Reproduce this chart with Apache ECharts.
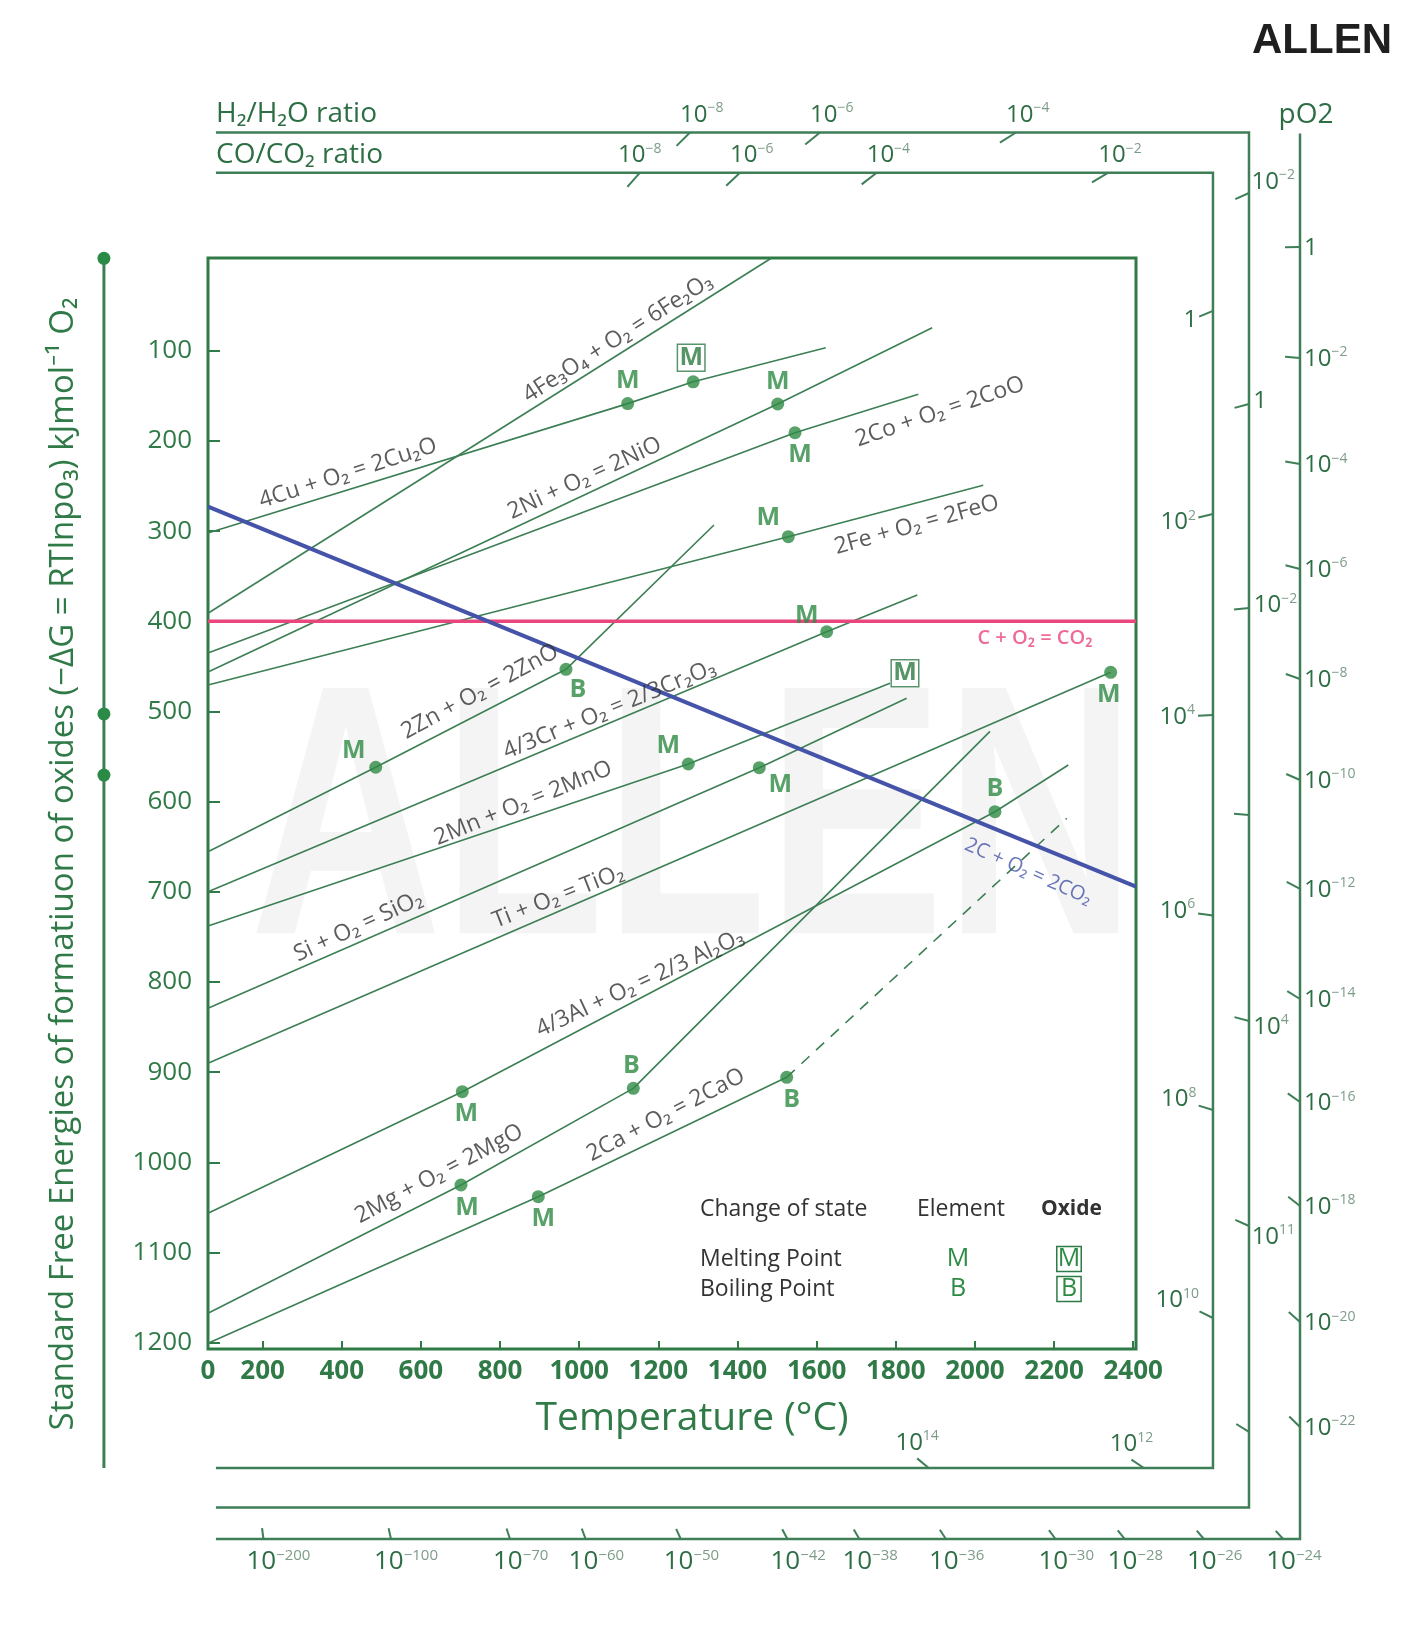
<!DOCTYPE html>
<html><head><meta charset="utf-8">
<script src="https://cdn.jsdelivr.net/npm/echarts@6/dist/echarts.min.js"></script>
<style>html,body{margin:0;padding:0;background:#fff}#c{width:1406px;height:1627px}</style>
</head><body><div id="c"></div>
<script>
// ================= DATA =================
const tempMin = 62, tempMax = 2407;          // °C at plot edges
const energyMin = -3, energyMax = 1207;       // -ΔG (kJ/mol O2) at plot edges
const tempTicks = [200,400,600,800,1000,1200,1400,1600,1800,2000,2200,2400];
const energyTicks = [100,200,300,400,500,600,700,800,900,1000,1100,1200];

// reaction lines [T °C, -ΔG]
const lineFe3O4 = [[62,391],[1486,-3]];
const lineCu    = [[62,302],[1122.5,158.5],[1288,134.3],[1623,96.5]];
const lineNi    = [[62,456.2],[1501.6,158.9],[1892,74.3]];
const lineCo    = [[62,435.1],[1545.3,190.8],[1857,148.2]];
const lineFeO   = [[62,470.6],[1528.4,306.1],[2021,249.1]];
const lineZn    = [[62,655.5],[485.8,561.8],[966.6,453.2],[1340.6,293.1]];
const lineCr    = [[62,699.8],[1625.4,411.5],[1854.3,370.8]];
const lineMn    = [[62,737.9],[1275.7,558.2],[1785.3,468.7]];
const lineSi    = [[62,829.1],[1455.1,562.3],[1827.5,485.3]];
const lineTi    = [[62,890.1],[2343,456.5]];
const lineAl    = [[62,1056.5],[704.6,921.6],[2050.7,611.1],[2235.9,559.3]];
const lineMg    = [[62,1167.4],[701.3,1025.1],[1136.7,917.9],[2038,522]];
const lineCa    = [[62,1200.7],[896.6,1038.1],[1524.3,905.7]];
const lineCaVapour = [[1524.3,905.7],[2232,618.4]];
const lineCtoCO2 = [[62,400],[2407,400]];
const line2CtoCO = [[62,272.8],[2407,694.3]];

// change-of-state points
const elementMelting = [[1122.5,158.5],[1501.6,158.9],[1545.3,190.8],[1528.4,306.1],[1625.4,411.5],[485.8,561.8],[1275.7,558.2],[1455.1,562.3],[2343,456.5],[704.6,921.6],[701.3,1025.1],[896.6,1038.1]];
const elementMeltingNames = ['Cu','Ni','Co','Fe','Cr','Zn','Mn','Si','Ti','Al','Mg','Ca'];
const elementBoiling = [[966.6,453.2],[2050.7,611.1],[1136.7,917.9],[1524.3,905.7]];
const elementBoilingNames = ['Zn','Al','Mg','Ca'];
const oxideMelting = [[1288,134.3],[1785.3,468.7]];
const oxideMeltingNames = ['Cu₂O','MnO'];

// reaction label texts and anchor values
const reactionTexts = ['4Fe₃O₄ + O₂ = 6Fe₂O₃','4Cu + O₂ = 2Cu₂O','2Ni + O₂ = 2NiO','2Co + O₂ = 2CoO','2Fe + O₂ = 2FeO','2Zn + O₂ = 2ZnO','4/3Cr + O₂ = 2/3Cr₂O₃','2Mn + O₂ = 2MnO','Si + O₂ = SiO₂','Ti + O₂ = TiO₂','4/3Al + O₂ = 2/3 Al₂O₃','2Mg + O₂ = 2MgO','2Ca + O₂ = 2CaO'];
const reactionTextAt = [[1097.3,86.1],[415.8,235.8],[1013.6,241.3],[1911.7,167.5],[1852.8,293.1],[749.3,478],[1076.5,498],[858.7,601.8],[441.8,738.6],[947.2,705.4],[1153.6,801.4],[645.7,1012.9],[1218.8,947.5]];
const carbonTexts = ['C + O₂ = CO₂','2C + O₂ = 2CO₂'];
const carbonTextAt = [[2151.8,418.4],[2134.8,677.6]];

// nomogram scales (values in the same T / -ΔG units)
const nomoOriginT = -201;
const nomoOrigins = {O:-2.6, H:502.6, C:570.5};
const scaleStartT = 82;
const h2TopV = -142.2, coTopV = -97.6, coBottomV = 1339, h2BottomV = 1382.8, pO2BottomV = 1417.7;
const coRightT = 2601.5, h2RightT = 2692.5, pO2RightT = 2821.4, pO2TopV = -141;
const h2TopTicks = [1280,1608.5,2103.7];             const h2TopExp = ['-8','-6','-4'];
const coTopTicks = [1153.6,1406.3,1751.7,2337];      const coTopExp = ['-8','-6','-4','-2'];
const coRightTicks = [55.6,280.9,503.8,726.1,941.9,1172.6]; const coRightExp = ['0','2','4','6','8','10'];
const coBottomTicks = [1883,2427];                   const coBottomExp = ['14','12'];
const h2RightTicks = [-75.1,158.9,385.2,614.8,843.2,1070.6,1299]; const h2RightExp = ['-2','0','-2','','4','11',''];
const pO2RightTicks = [-15.2,107.9,225.5,341.9,463.9,575.9,696.8,818.8,933.1,1048.4,1177.1,1293.5];
const pO2RightExp = ['0','-2','-4','-6','-8','-10','-12','-14','-16','-18','-20','-22'];
const pO2BottomTicks = [202,524.4,824.9,1016.2,1256.5,1526.1,1708,1926.6,2203.6,2378.2,2578.6,2778.9];
const pO2BottomExp = ['-200','-100','-70','-60','-50','-42','-38','-36','-30','-28','-26','-24'];

// ================= STYLE =================
const FONT = "'Open Sans','Noto Sans','DejaVu Sans',sans-serif";
const GREEN = '#2f7a47', LINE = '#3d7f55', DOT = '#2e8b45', TXT = '#333333', SCALE = '#3f7f58';
const SCALE_TXT = '#2e6e45', SUP_TXT = '#7d9c88';
const BLUE = '#4553a8', PINK = '#e8467c';

const meltPlace = [['top',0,0],['top',0,0],['bottom',5,0],['top',-20,4],['top',-20,7],['top',-22,6],['top',-20,4],['bottom',21,-5],['bottom',-2,0],['bottom',4,0],['bottom',6,0],['bottom',5,0]];
const boilPlace = [['bottom',12,-2],['top',0,0],['top',-2,0],['bottom',5,0]];
const reactionAngles = [32.6,17.9,24.8,18.8,15.6,28.5,22.3,22.2,24.8,21.3,25,28,27.7];
// per-tick label nudges for the CO/CO2 top scale
const coTopLabelNudge = [-12,0,0,0];

function lineSeries(data, color, width, type){
  return {type:'line', data:data, symbol:'none', silent:true, animation:false, z:3,
    lineStyle:{color:color, width:width, type:type||'solid'}};
}
const markLabel = (txt, place, boxed) => {
  const l = {show:true, formatter:txt, position:place[0], offset:[place[1],place[2]], distance:3,
    color:DOT, fontSize:25, fontWeight:'bold', fontFamily:FONT, lineHeight:26};
  if (boxed){ l.borderColor = GREEN; l.borderWidth = 1.5; l.padding = [1,2,0,2]; l.color = '#2a7a40'; }
  return l;
};
const pointData = [];
elementMelting.forEach((p,i)=>pointData.push({name:elementMeltingNames[i]+' M', value:p, label:markLabel('M', meltPlace[i])}));
elementBoiling.forEach((p,i)=>pointData.push({name:elementBoilingNames[i]+' B', value:p, label:markLabel('B', boilPlace[i])}));
pointData.push({name:oxideMeltingNames[0], value:oxideMelting[0], label:markLabel('M',['top',-2,-1],true)});
pointData.push({name:oxideMeltingNames[1], value:oxideMelting[1], symbolSize:0, label:markLabel('M',['inside',15,-10],true)});

const textData = reactionTexts.map((t,i)=>({name:t, value:reactionTextAt[i],
  label:{show:true, formatter:t, position:'inside', rotate:reactionAngles[i], color:TXT, fontSize:23, fontFamily:FONT}}));
textData.push({name:carbonTexts[0], value:carbonTextAt[0], label:{show:true, formatter:carbonTexts[0], position:'inside', rotate:0, color:PINK, fontSize:20, fontWeight:600, fontFamily:FONT}});
textData.push({name:carbonTexts[1], value:carbonTextAt[1], label:{show:true, formatter:carbonTexts[1], position:'inside', rotate:-24, color:BLUE, fontSize:20, fontFamily:FONT}});

// nomogram scale definitions
const scaleDefs = [
  {axis:'h', at:h2TopV, values:h2TopTicks, exps:h2TopExp, origin:'H', len:19, mode:'above'},
  {axis:'h', at:coTopV, values:coTopTicks, exps:coTopExp, origin:'C', len:19, mode:'above', nudge:coTopLabelNudge},
  {axis:'v', at:coRightT, values:coRightTicks, exps:coRightExp, origin:'C', len:15, mode:'endOut'},
  {axis:'h', at:coBottomV, values:coBottomTicks, exps:coBottomExp, origin:'C', len:15, mode:'endAbove'},
  {axis:'v', at:h2RightT, values:h2RightTicks, exps:h2RightExp, origin:'H', len:15, mode:'oppOut'},
  {axis:'v', at:pO2RightT, values:pO2RightTicks, exps:pO2RightExp, origin:'O', len:15, mode:'right'},
  {axis:'h', at:pO2BottomV, values:pO2BottomTicks, exps:pO2BottomExp, origin:'O', len:11, mode:'below', big:true}
];
function tickText(e){ return e === '0' ? '1' : '{b|10}{s|' + e.replace('-', '−') + '}'; }
function tickWidth(e, fs){ return e === '0' ? fs*0.55 : fs*1.15 + e.length*fs*0.33; }

function renderNomogram(params, api){
  const ch = [];
  const P = (t,v) => api.coord([t,v]);
  const poly = pts => ch.push({type:'polyline', shape:{points:pts.map(p=>P(p[0],p[1]))},
    style:{stroke:SCALE, lineWidth:2.5, fill:null}});
  poly([[scaleStartT,h2TopV],[h2RightT,h2TopV],[h2RightT,h2BottomV],[scaleStartT,h2BottomV]]);
  poly([[scaleStartT,coTopV],[coRightT,coTopV],[coRightT,coBottomV],[scaleStartT,coBottomV]]);
  poly([[pO2RightT,pO2TopV],[pO2RightT,pO2BottomV],[scaleStartT,pO2BottomV]]);
  // left energy scale with origin points
  ch.push({type:'line', shape:(function(){const a=P(nomoOriginT,nomoOrigins.O), b=P(nomoOriginT,coBottomV); return {x1:a[0],y1:a[1],x2:b[0],y2:b[1]};})(),
    style:{stroke:SCALE, lineWidth:3}});
  ['O','H','C'].forEach(k=>{const c=P(nomoOriginT,nomoOrigins[k]); ch.push({type:'circle', shape:{cx:c[0],cy:c[1],r:6.5}, style:{fill:'#2b8a45'}});});

  scaleDefs.forEach(s=>{
    const og = P(nomoOriginT, nomoOrigins[s.origin]);
    const fs = s.big ? 26 : 24, ss = s.big ? 15 : 14;
    s.values.forEach((val,i)=>{
      const p = s.axis === 'h' ? P(val, s.at) : P(s.at, val);
      let dx = og[0]-p[0], dy = og[1]-p[1]; const L = Math.hypot(dx,dy); dx/=L; dy/=L;
      const e = [p[0]+dx*s.len, p[1]+dy*s.len];
      ch.push({type:'line', shape:{x1:p[0],y1:p[1],x2:e[0],y2:e[1]}, style:{stroke:SCALE, lineWidth:2}});
      const ex = s.exps[i];
      if (ex === '') return;
      const w = tickWidth(ex, fs);
      const nx = s.nudge ? s.nudge[i] : 0;
      let x, y, align = 'center', va = 'middle';
      if (s.mode === 'above'){ x = p[0]-10+nx; y = p[1]-4; align='left'; va='bottom'; }
      else if (s.mode === 'endOut'){ x = e[0]+dx*(3+w/2); y = e[1]+dy*(3+w/2); }
      else if (s.mode === 'oppOut'){ x = p[0]-dx*(5+w/2); y = p[1]-dy*(5+w/2); }
      else if (s.mode === 'right'){ x = p[0]+4; y = p[1]+1; align='left'; }
      else if (s.mode === 'endAbove'){ x = e[0]; y = e[1]-2; va='bottom'; }
      else { x = p[0]-17; y = p[1]+9; align='left'; va='top'; }
      ch.push({type:'text', style:{text:tickText(ex), x:x, y:y, align:align, verticalAlign:va,
        fill:SCALE_TXT, fontSize:fs, fontFamily:FONT, lineHeight:27,
        rich:{b:{fontSize:fs, fontFamily:FONT, fill:SCALE_TXT, lineHeight:27},
              s:{fontSize:ss, fontFamily:FONT, fill:SUP_TXT, verticalAlign:'top'}}}});
    });
  });
  return {type:'group', children:ch};
}

const chart = echarts.init(document.getElementById('c'));
chart.setOption({
  animation:false,
  backgroundColor:'#ffffff',
  grid:{left:208, top:258, width:928, height:1091, show:true, borderColor:GREEN, borderWidth:3, backgroundColor:'transparent'},
  xAxis:{type:'value', min:tempMin, max:tempMax, position:'bottom',
    axisLine:{show:false, onZero:false}, splitLine:{show:false},
    axisTick:{show:true, inside:true, length:8, lineStyle:{color:GREEN, width:2}, customValues:tempTicks},
    axisLabel:{show:true, margin:10, color:GREEN, fontSize:26, fontWeight:'bold', fontFamily:FONT,
      customValues:[tempMin].concat(tempTicks), formatter:v => (v === tempMin ? '0' : String(v))}},
  yAxis:{type:'value', inverse:true, min:energyMin, max:energyMax, position:'left',
    axisLine:{show:false, onZero:false}, splitLine:{show:false},
    axisTick:{show:true, inside:true, length:12, lineStyle:{color:GREEN, width:2}, customValues:energyTicks},
    axisLabel:{show:true, margin:16, color:GREEN, fontSize:26, fontWeight:500, fontFamily:FONT, customValues:energyTicks,
      formatter:v => String(v)}},
  graphic:[
    {type:'text', x:693, y:835, scaleY:1.34, z:-10, silent:true,
      style:{text:'ALLEN', x:0, y:0, align:'center', verticalAlign:'middle', fill:'#f4f4f4', font:'bold 266px "Liberation Sans", sans-serif'}},
    {type:'text', x:1322, y:41, style:{text:'ALLEN', align:'center', verticalAlign:'middle', fill:'#1f1f1f', font:'bold 42px "Liberation Sans", sans-serif'}},
    {type:'text', x:64, y:864, rotation:Math.PI/2, style:{text:'Standard Free Energies of formatiuon of oxides (−ΔG = RTlnpo₃) kJmol⁻¹ O₂', align:'center', verticalAlign:'middle', fill:GREEN, fontSize:33, fontFamily:FONT}},
    {type:'text', x:692, y:1419, style:{text:'Temperature (°C)', align:'center', verticalAlign:'middle', fill:GREEN, fontSize:39, fontWeight:500, fontFamily:FONT}},
    {type:'text', x:216, y:114, style:{text:'H₂/H₂O ratio', align:'left', verticalAlign:'middle', fill:SCALE_TXT, fontSize:28, fontFamily:FONT}},
    {type:'text', x:216, y:155, style:{text:'CO/CO₂ ratio', align:'left', verticalAlign:'middle', fill:SCALE_TXT, fontSize:28, fontFamily:FONT}},
    {type:'text', x:1306, y:115, style:{text:'pO2', align:'center', verticalAlign:'middle', fill:SCALE_TXT, fontSize:28, fontFamily:FONT}},
    {type:'text', x:700, y:1209, style:{text:'Change of state', align:'left', verticalAlign:'middle', fill:TXT, fontSize:23, fontFamily:FONT}},
    {type:'text', x:917, y:1209, style:{text:'Element', align:'left', verticalAlign:'middle', fill:TXT, fontSize:23, fontFamily:FONT}},
    {type:'text', x:1041, y:1209, style:{text:'Oxide', align:'left', verticalAlign:'middle', fill:TXT, fontSize:21, fontWeight:'bold', fontFamily:FONT}},
    {type:'text', x:700, y:1259, style:{text:'Melting Point', align:'left', verticalAlign:'middle', fill:TXT, fontSize:23, fontFamily:FONT}},
    {type:'text', x:700, y:1289, style:{text:'Boiling Point', align:'left', verticalAlign:'middle', fill:TXT, fontSize:23, fontFamily:FONT}},
    {type:'text', x:958, y:1259, style:{text:'M', align:'center', verticalAlign:'middle', fill:DOT, fontSize:25, fontFamily:FONT}},
    {type:'text', x:958, y:1289, style:{text:'B', align:'center', verticalAlign:'middle', fill:DOT, fontSize:25, fontFamily:FONT}},
    {type:'text', x:1069, y:1259, style:{text:'M', align:'center', verticalAlign:'middle', fill:DOT, fontSize:25, fontFamily:FONT, borderColor:GREEN, borderWidth:1.5, padding:[0,1,0,1]}},
    {type:'text', x:1069, y:1289, style:{text:'B', align:'center', verticalAlign:'middle', fill:DOT, fontSize:25, fontFamily:FONT, borderColor:GREEN, borderWidth:1.5, padding:[0,4,0,4]}}
  ],
  series:[
    lineSeries(lineFe3O4, LINE, 1.6), lineSeries(lineCu, LINE, 1.6), lineSeries(lineNi, LINE, 1.6),
    lineSeries(lineCo, LINE, 1.6), lineSeries(lineFeO, LINE, 1.6), lineSeries(lineZn, LINE, 1.6),
    lineSeries(lineCr, LINE, 1.6), lineSeries(lineMn, LINE, 1.6), lineSeries(lineSi, LINE, 1.6),
    lineSeries(lineTi, LINE, 1.6), lineSeries(lineAl, LINE, 1.6), lineSeries(lineMg, LINE, 1.6),
    lineSeries(lineCa, LINE, 1.6), lineSeries(lineCaVapour, LINE, 1.6, [11,9]),
    lineSeries(lineCtoCO2, PINK, 3.5), lineSeries(line2CtoCO, BLUE, 4),
    {type:'scatter', data:pointData, symbol:'circle', symbolSize:13, itemStyle:{color:DOT}, z:6, silent:true, animation:false},
    {type:'scatter', data:textData, symbol:'circle', symbolSize:1, itemStyle:{color:'rgba(0,0,0,0)'}, z:5, silent:true, animation:false},
    {type:'custom', coordinateSystem:'cartesian2d', data:[[tempMin, energyMin]], clip:false, silent:true, z:1, animation:false, renderItem:renderNomogram}
  ]
});
</script></body></html>
